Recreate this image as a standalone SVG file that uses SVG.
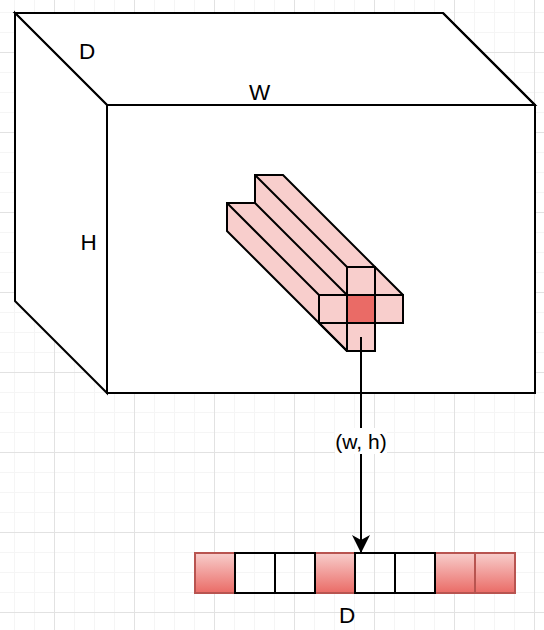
<svg xmlns="http://www.w3.org/2000/svg" width="544" height="630" viewBox="0 0 544 630">
<style>
.ln{stroke:#000;stroke-width:2;fill:none;stroke-linejoin:miter}
.box{stroke:#000;stroke-width:2;fill:#fff}
.pk{stroke:#000;stroke-width:2;fill:#f8cecc}
.rd{stroke:#b85450;stroke-width:2;fill:url(#g)}
.t{font-family:"Liberation Sans",Arial,sans-serif;font-size:22.5px;fill:#000;text-anchor:middle}
</style>
<defs>
<linearGradient id="g" x1="0" y1="0" x2="0" y2="1"><stop offset="0" stop-color="#f8cecc"/><stop offset="1" stop-color="#ea6b66"/></linearGradient>
<pattern id="minor" width="20" height="20" patternUnits="userSpaceOnUse" x="4" y="2"><path d="M10.5 0V20M0 10.5H20" stroke="#f5f5f5" stroke-width="1" fill="none"/></pattern>
<pattern id="major" width="80" height="80" patternUnits="userSpaceOnUse" x="4" y="2"><path d="M50.5 0V80M0 50.5H80" stroke="#e2e2e2" stroke-width="1" fill="none"/></pattern>
<marker id="arr" markerUnits="userSpaceOnUse" markerWidth="20" markerHeight="22" refX="18" refY="9" orient="auto"><path d="M18 9L0 0L5 9L0 18Z" fill="#000"/></marker>
</defs>
<g id="grid"><rect width="544" height="630" fill="#fff"/><rect width="544" height="630" fill="url(#minor)"/><rect width="544" height="630" fill="url(#major)"/></g>
<g id="box">
<path class="box" d="M15 13H443L535 105H107Z"/>
<path class="box" d="M15 13L107 105V393L15 301Z"/>
<rect class="box" x="107" y="105" width="428" height="288"/>
<path class="ln" d="M443 13L535 105"/>
</g>
<g id="prism">
<path class="pk" d="M255 175H283L403 295V323H375V351H347L227 231V203H255Z"/>
<path class="ln" d="M255 175L347 267M255 203L347 295M227 203L319 295M319 323L347 351"/>
<rect class="pk" x="347" y="267" width="28" height="28"/>
<rect class="pk" x="319" y="295" width="28" height="28"/>
<rect class="pk" x="375" y="295" width="28" height="28"/>
<rect class="pk" x="347" y="323" width="28" height="28"/>
<rect x="347" y="295" width="28" height="28" fill="#ea6b66" stroke="#000" stroke-width="2"/>
</g>
<g id="strip">
<rect class="rd" x="195" y="553" width="40" height="40"/>
<rect class="rd" x="315" y="553" width="40" height="40"/>
<rect class="rd" x="435" y="553" width="40" height="40"/>
<rect class="rd" x="475" y="553" width="40" height="40"/>
<rect class="ln" x="235" y="553" width="40" height="40"/>
<rect class="ln" x="275" y="553" width="40" height="40"/>
<rect class="ln" x="355" y="553" width="40" height="40"/>
<rect class="ln" x="395" y="553" width="40" height="40"/>
</g>
<g id="connectors">
<path class="ln" d="M361 337V553" marker-end="url(#arr)"/>
<rect x="335" y="428" width="52" height="26" fill="#fff"/>
<text class="t" x="361" y="449" style="font-size:21px">(w, h)</text>
</g>
<g id="labels">
<text class="t" x="87" y="59">D</text>
<text class="t" x="259.5" y="99.5">W</text>
<text class="t" x="88.5" y="250">H</text>
<text class="t" x="347" y="623">D</text>
</g>
</svg>
